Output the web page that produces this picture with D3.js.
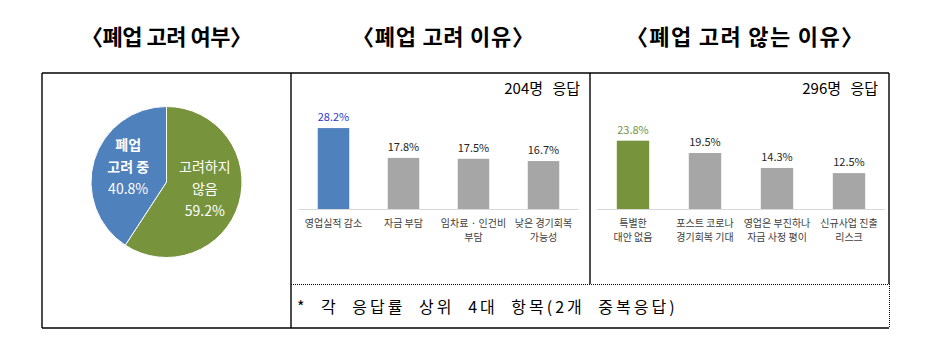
<!DOCTYPE html>
<html><head><meta charset="utf-8">
<script src="https://cdn.jsdelivr.net/npm/d3@7"></script>
<style>
html,body{margin:0;padding:0;background:#fff;}
svg{display:block;}
text{font-family:"Noto Sans CJK KR","Noto Sans",sans-serif;}
</style></head>
<body>
<script>
// ---- data ----
const titles = ["〈폐업 고려 여부〉", "〈폐업 고려 이유〉", "〈폐업 고려 않는 이유〉"];
const pieNames = [["고려하지", "않음"], ["폐업", "고려 중"]];
const pieValues = [59.2, 40.8];
const reasonCats = [["영업실적 감소"], ["자금 부담"], ["임차료 · 인건비", "부담"], ["낮은 경기회복", "가능성"]];
const reasonValues = [28.2, 17.8, 17.5, 16.7];
const notCats = [["특별한", "대안 없음"], ["포스트 코로나", "경기회복 기대"], ["영업은 부진하나", "자금 사정 평이"], ["신규사업 진출", "리스크"]];
const notValues = [23.8, 19.5, 14.3, 12.5];
const respondents = ["204명 응답", "296명 응답"];
const footnote = "* 각 응답률 상위 4대 항목(2개 중복응답)";

const W = 934, H = 359;
const svg = d3.select("body").append("svg").attr("width", W).attr("height", H);

// ---- titles ----
const titleX = [166.5, 443, 744.5];
const titleW = [171, 182, 237];
svg.selectAll("text.title").data(titles).join("text")
  .attr("class", "title")
  .attr("x", (d, i) => titleX[i] - titleW[i] / 2).attr("y", 45)
  .attr("textLength", (d, i) => titleW[i]).attr("lengthAdjust", "spacing")
  .attr("font-size", 22).attr("font-weight", "bold").attr("fill", "#000")
  .text(d => d);

// ---- frame ----
const L = 42, T = 73, R = 889, B = 328, M1 = 291, M2 = 590, D = 284;
const frame = svg.append("g").attr("stroke", "#000").attr("fill", "none").attr("stroke-width", 1.4);
frame.append("line").attr("x1", L).attr("x2", R).attr("y1", T).attr("y2", T);
frame.append("line").attr("x1", L).attr("x2", R).attr("y1", B).attr("y2", B);
frame.append("line").attr("x1", L).attr("x2", L).attr("y1", T).attr("y2", B);
frame.append("line").attr("x1", M1).attr("x2", M1).attr("y1", T).attr("y2", B);
frame.append("line").attr("x1", M2).attr("x2", M2).attr("y1", T).attr("y2", D);
frame.append("line").attr("x1", R).attr("x2", R).attr("y1", T).attr("y2", D);
frame.append("line").attr("x1", M1).attr("x2", R).attr("y1", D + 0.5).attr("y2", D + 0.5)
  .attr("stroke-width", 1).attr("stroke-dasharray", "1,1");
frame.append("line").attr("x1", R + 0.5).attr("x2", R + 0.5).attr("y1", D).attr("y2", B)
  .attr("stroke-width", 1).attr("stroke-dasharray", "1,1");

// ---- pie ----
const pieColors = ["#77933C", "#4F81BD"];
const cx = 166.5, cy = 182, rad = 75.5;
const pie = d3.pie().sort(null).value(d => d)(pieValues);
const arc = d3.arc().innerRadius(0).outerRadius(rad);
const labelArc = d3.arc().innerRadius(40).outerRadius(40);
const pg = svg.append("g").attr("transform", `translate(${cx},${cy})`);
pg.selectAll("path").data(pie).join("path")
  .attr("d", arc).attr("fill", (d, i) => pieColors[i])
  .attr("stroke", "#fff").attr("stroke-width", 1);
pg.selectAll("text").data(pie).join("text")
  .attr("transform", d => { const c = labelArc.centroid(d); return `translate(${c[0]},${c[1] - 4})`; })
  .attr("text-anchor", "middle").attr("fill", "#fff").attr("font-size", 14)
  .each(function(d, i) {
    const lines = pieNames[i].concat([d.data.toFixed(1) + "%"]);
    const t = d3.select(this);
    lines.forEach((s, k) => {
      t.append("tspan").attr("x", 0).attr("y", (k - 1) * 22 + 5).text(s)
        .attr("font-weight", k < 2 && i === 1 ? "bold" : "normal");
    });
  });

// ---- bar charts ----
function barChart(cats, vals, x0, x1, hiColor, hiLabel, resp, respX) {
  const g = svg.append("g");
  const x = d3.scaleBand().domain(d3.range(cats.length)).range([x0, x1])
    .paddingInner(0.55).paddingOuter(0.275);
  const y = d3.scaleLinear().domain([0, 30]).range([209, 122.9]);
  g.append("line").attr("x1", x0).attr("x2", x1).attr("y1", y(0) + 0.5).attr("y2", y(0) + 0.5)
    .attr("stroke", "#D9D9D9").attr("stroke-width", 1);
  g.selectAll("rect").data(vals).join("rect")
    .attr("x", (d, i) => x(i)).attr("width", x.bandwidth())
    .attr("y", d => y(d)).attr("height", d => y(0) - y(d))
    .attr("fill", (d, i) => i === 0 ? hiColor : "#A6A6A6");
  g.selectAll("text.val").data(vals).join("text").attr("class", "val")
    .attr("x", (d, i) => x(i) + x.bandwidth() / 2).attr("y", d => y(d) - 7)
    .attr("text-anchor", "middle").attr("font-size", 11)
    .attr("fill", (d, i) => i === 0 ? hiLabel : "#262626")
    .text(d => d.toFixed(1) + "%");
  g.selectAll("text.cat").data(cats).join("text").attr("class", "cat")
    .attr("text-anchor", "middle").attr("font-size", 10).attr("fill", "#404040")
    .each(function(d, i) {
      const t = d3.select(this);
      d.forEach((s, k) => t.append("tspan")
        .attr("x", x(i) + x.bandwidth() / 2).attr("y", 227 + k * 13.5).text(s));
    });
  g.append("text").attr("x", respX).attr("y", 94).attr("text-anchor", "end")
    .attr("font-size", 15).attr("word-spacing", 6).attr("fill", "#000").text(resp);
}
barChart(reasonCats, reasonValues, 298.5, 578.5, "#4F81BD", "#3535D0", respondents[0], 580);
barChart(notCats, notValues, 597, 885, "#77933C", "#77933C", respondents[1], 878);

// ---- footnote ----
svg.append("text").attr("x", 297).attr("y", 313).attr("font-size", 16).attr("fill", "#000")
  .attr("letter-spacing", 3).attr("word-spacing", 7).text(footnote);
</script>
</body></html>
